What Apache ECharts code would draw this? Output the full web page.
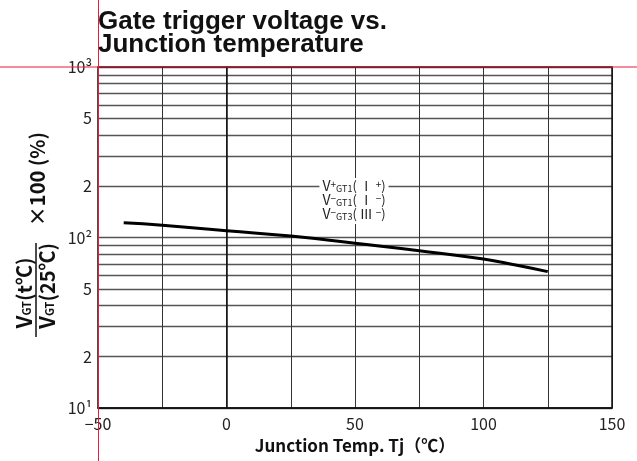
<!DOCTYPE html>
<html>
<head>
<meta charset="utf-8">
<script src="https://cdn.jsdelivr.net/npm/echarts@6/dist/echarts.min.js"></script>
<style>
  html, body { margin: 0; padding: 0; background: #fff; }
  #chart { width: 637px; height: 461px; }
</style>
</head>
<body>
<div id="chart"></div>
<script>
// curve (Tj in degC, ratio in %)
const temps = [-40, -25, 0, 25, 50, 75, 100, 112, 125];
const vgtRatio = [122, 118, 109.5, 102, 92.5, 83.7, 74.8, 69.2, 63.1];

// axis ticks
const xTicks = [-50, 0, 50, 100, 150];
const yGridValues = [10, 20, 30, 40, 50, 60, 70, 80, 90, 100, 200, 300, 400, 500, 600, 700, 800, 900, 1000];
const yLabelValues = [10, 20, 50, 100, 200, 500, 1000];
const yLabelText = ['10¹', '2', '5', '10²', '2', '5', '10³'];

const jp = '"Noto Sans CJK JP", "Noto Sans", sans-serif';

var chart = echarts.init(document.getElementById('chart'));

var noteRich = {
    v: { font: '14px ' + jp, fill: '#222', lineHeight: 14 },
    p: { font: '10px ' + jp, fill: '#222', lineHeight: 14, verticalAlign: 'top' },
    s: { font: '9px ' + jp, fill: '#222', lineHeight: 14, verticalAlign: 'bottom' },
    n: { font: '13px ' + jp, fill: '#222', lineHeight: 14 }
};

var option = {
    animation: false,
    backgroundColor: '#fff',
    grid: { left: 98, right: 25, top: 67, bottom: 53 },
    xAxis: {
        type: 'value',
        min: -50,
        max: 150,
        interval: 25,
        axisLine: { lineStyle: { color: '#111', width: 1.5 } },
        axisTick: { show: false },
        splitLine: { show: true, lineStyle: { color: '#333', width: 1 } },
        axisLabel: {
            margin: 8,
            fontSize: 16,
            fontFamily: jp,
            color: '#222',
            formatter: function (v) {
                if (xTicks.indexOf(v) < 0) return '';
                return v < 0 ? '−' + (-v) : String(v);
            }
        }
    },
    yAxis: {
        type: 'log',
        logBase: 10,
        min: 10,
        max: 1000,
        axisLine: { show: true, lineStyle: { color: '#111', width: 1.5 } },
        axisTick: { show: false, customValues: yGridValues },
        splitLine: { show: true, lineStyle: { color: '#555', width: 1.4 } },
        axisLabel: {
            customValues: yLabelValues,
            margin: 6,
            fontSize: 16,
            fontFamily: jp,
            color: '#222',
            formatter: function (v) {
                var i = yLabelValues.indexOf(Math.round(v));
                return i >= 0 ? yLabelText[i] : '';
            }
        }
    },
    series: [{
        type: 'line',
        data: temps.map(function (t, i) { return [t, vgtRatio[i]]; }),
        smooth: true,
        showSymbol: false,
        lineStyle: { color: '#000', width: 3 },
        z: 5
    }],
    graphic: [
        // frame top/right
        {
            type: 'rect', z: 1, silent: true,
            shape: { x: 98, y: 67, width: 514, height: 341 },
            style: { fill: null, stroke: '#111', lineWidth: 1.5 }
        },
        // title
        {
            type: 'text', left: 98, top: 9,
            style: {
                text: 'Gate trigger voltage vs.\nJunction temperature',
                font: 'bold 26px "Liberation Sans", Arial, sans-serif',
                lineHeight: 23,
                fill: '#111'
            }
        },
        // x axis name
        {
            type: 'text', x: 355, y: 446,
            style: {
                text: 'Junction Temp. Tj（℃）',
                font: 'bold 17px ' + jp,
                fill: '#111',
                align: 'center',
                verticalAlign: 'middle'
            }
        },
        // y axis name (fraction, rotated)
        {
            type: 'group', x: 36, y: 289, rotation: Math.PI / 2,
            children: [
                {
                    type: 'text', x: -4, y: -12,
                    style: {
                        text: '{v|V}{s|GT}{b|(t℃)}',
                        align: 'center', verticalAlign: 'middle',
                        rich: {
                            v: { font: 'bold 21px ' + jp, fill: '#111' },
                            s: { font: 'bold 11px ' + jp, fill: '#111', verticalAlign: 'bottom', padding: [0, 0, 2, 0] },
                            b: { font: 'bold 20px ' + jp, fill: '#111' }
                        }
                    }
                },
                {
                    type: 'line',
                    shape: { x1: -48, y1: 0, x2: 46, y2: 0 },
                    style: { stroke: '#111', lineWidth: 1.5 }
                },
                {
                    type: 'text', x: 3, y: 11,
                    style: {
                        text: '{v|V}{s|GT}{b|(25℃)}',
                        align: 'center', verticalAlign: 'middle',
                        rich: {
                            v: { font: 'bold 21px ' + jp, fill: '#111' },
                            s: { font: 'bold 11px ' + jp, fill: '#111', verticalAlign: 'bottom', padding: [0, 0, 2, 0] },
                            b: { font: 'bold 20px ' + jp, fill: '#111' }
                        }
                    }
                },
                {
                    type: 'text', x: 110, y: 1,
                    style: {
                        text: '×100 (%)',
                        font: 'bold 20px ' + jp,
                        fill: '#111',
                        align: 'center', verticalAlign: 'middle'
                    }
                }
            ]
        },
        // series note
        {
            type: 'text', x: 354, y: 201, z: 10,
            style: {
                text: '{v|V}{p|+}{s|GT1}{n|( Ⅰ }{p|+}{n|)}\n{v|V}{p|−}{s|GT1}{n|( Ⅰ }{p|−}{n|)}\n{v|V}{p|−}{s|GT3}{n|( Ⅲ }{p|−}{n|)}',
                align: 'center', verticalAlign: 'middle',
                backgroundColor: '#fff',
                padding: [1, 3, 3, 3],
                rich: noteRich
            }
        },
        // red guide lines seen in the picture
        {
            type: 'line', z: 100, silent: true,
            shape: { x1: 98.5, y1: 0, x2: 98.5, y2: 461 },
            style: { stroke: '#e41d3a', lineWidth: 1 }
        },
        {
            type: 'line', z: 100, silent: true,
            shape: { x1: 0, y1: 67, x2: 637, y2: 67 },
            style: { stroke: '#e41d3a', lineWidth: 1.2 }
        }
    ]
};

option && chart.setOption(option);
</script>
</body>
</html>
